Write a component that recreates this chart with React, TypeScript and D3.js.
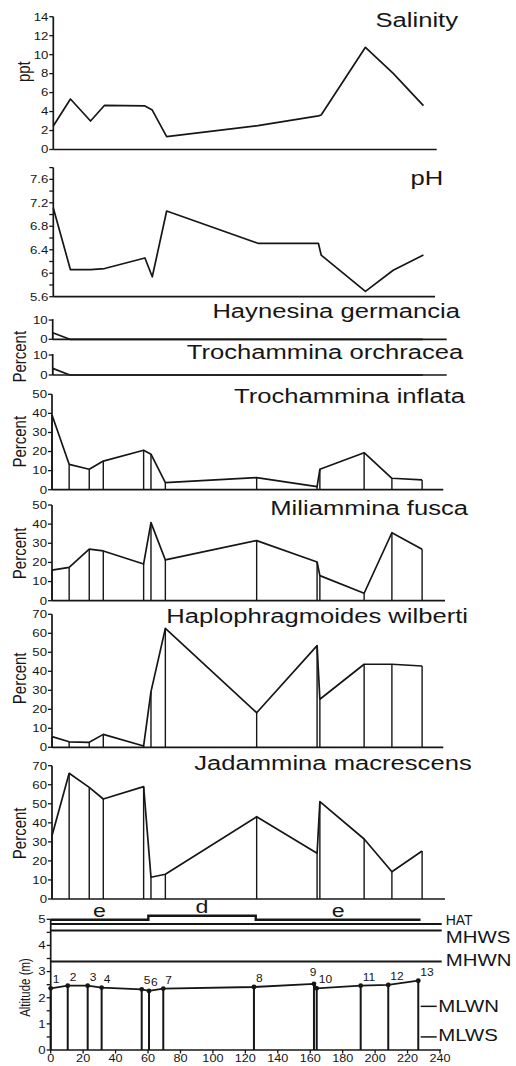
import * as d3 from "d3";
import React from "react";

// sample stations along the transect (distance in m)
const sampleIds = ["1", "2", "3", "4", "5", "6", "7", "8", "9", "10", "11", "12", "13"];
const distances = [0, 10.5, 22.8, 31.4, 56.1, 60.6, 69.4, 125.3, 162.3, 164, 191.1, 208.1, 226.6];

const salinity = [2.48, 5.32, 3.0, 4.66, 4.59, 4.16, 1.35, 2.51, 3.55, 3.64, 10.77, 8.03, 4.62];
const pH = [7.11, 6.06, 6.06, 6.08, 6.26, 5.94, 7.06, 6.51, 6.51, 6.31, 5.69, 6.05, 6.31];
const haynesina = [3.4, 0, 0, 0, 0, 0, 0, 0, 0, 0, 0, 0, 0];
const orchracea = [3.3, 0, 0, 0, 0, 0, 0, 0, 0, 0, 0, 0, 0];
const inflata = [39.2, 13.3, 10.7, 15, 20.7, 18.6, 3.7, 6.3, 1.6, 10.7, 19.4, 6, 5.1];
const fusca = [16, 17.4, 26.9, 26, 19.2, 40.8, 21.3, 31.4, 20.2, 13.1, 3.9, 35.5, 26.9];
const wilberti = [5.6, 2.9, 2.6, 6.8, 0.7, 29.3, 62.6, 18.2, 53.5, 25.3, 43.7, 43.7, 42.8];
const macrescens = [33.2, 66, 58.6, 52.5, 59, 11.4, 13, 43.2, 24, 51.1, 31.5, 14.3, 25.2];
const altitude = [2.36, 2.46, 2.46, 2.39, 2.32, 2.26, 2.35, 2.41, 2.53, 2.36, 2.46, 2.49, 2.65];

const zones = [
  { label: "e", from: 0, to: 60.2 },
  { label: "d", from: 60.2, to: 126.4 },
  { label: "e", from: 126.4, to: 228 },
];
const tideLevels = [
  { name: "HAT", alt: 4.82, full: true },
  { name: "MHWS", alt: 4.57, full: true },
  { name: "MHWN", alt: 3.39, full: true },
  { name: "MLWN", alt: 1.67, full: false },
  { name: "MLWS", alt: 0.5, full: false },
];

const salinityTicks = [0, 2, 4, 6, 8, 10, 12, 14];
const phTicks = [5.6, 6, 6.4, 6.8, 7.2, 7.6];
const phMinorTicks = [5.8, 6.2, 6.6, 7, 7.4, 7.8];
const smallTicks = [0, 10];
const fiftyTicks = [0, 10, 20, 30, 40, 50];
const seventyTicks = [0, 10, 20, 30, 40, 50, 60, 70];
const altTicks = [0, 1, 2, 3, 4, 5];
const altMinorTicks = [0.5, 1.5, 2.5, 3.5, 4.5];
const distTicks = [0, 20, 40, 60, 80, 100, 120, 140, 160, 180, 200, 220, 240];

const FONT = '"Liberation Sans", Arial, Helvetica, sans-serif';
const INK = "#161616";
const SW = 1.7;

// the source figure is stretched horizontally, so text is too
const SText = ({ x, y, size, anchor = "start", sx = 1.22, rotate = 0, dy, children }: any) => (
  <text
    transform={`translate(${x},${y}) scale(${sx},1)${rotate ? ` rotate(${rotate})` : ""}`}
    fontSize={size}
    textAnchor={anchor}
    dy={dy}
    fill={INK}
    fontFamily={FONT}
  >
    {children}
  </text>
);

interface PanelCfg {
  title: string;
  values: number[];
  domain: [number, number];
  bottom: number;
  top: number;
  axisX: number;
  endX: number;
  ticks: number[];
  minor?: number[];
  titleX: number;
  titleY: number;
  verticals: boolean;
}

const panels: PanelCfg[] = [
  { title: "Salinity", values: salinity, domain: [0, 14], bottom: 149.5, top: 16.7, axisX: 53.3, endX: 436.7, ticks: salinityTicks, titleX: 458, titleY: 27, verticals: false },
  { title: "pH", values: pH, domain: [5.6, 7.8], bottom: 296.7, top: 167.6, axisX: 53.3, endX: 435, ticks: phTicks, minor: phMinorTicks, titleX: 443.3, titleY: 185, verticals: false },
  { title: "Haynesina germancia", values: haynesina, domain: [0, 10.5], bottom: 339.3, top: 319.1, axisX: 52.7, endX: 446.7, ticks: smallTicks, titleX: 460, titleY: 318.3, verticals: true },
  { title: "Trochammina orchracea", values: orchracea, domain: [0, 10.5], bottom: 375, top: 354, axisX: 52.7, endX: 446.7, ticks: smallTicks, titleX: 463.3, titleY: 359.3, verticals: true },
  { title: "Trochammina inflata", values: inflata, domain: [0, 50], bottom: 489.7, top: 394.3, axisX: 52, endX: 443.3, ticks: fiftyTicks, titleX: 465, titleY: 403.3, verticals: true },
  { title: "Miliammina fusca", values: fusca, domain: [0, 50], bottom: 600.7, top: 505, axisX: 52, endX: 445, ticks: fiftyTicks, titleX: 468, titleY: 515, verticals: true },
  { title: "Haplophragmoides wilberti", values: wilberti, domain: [0, 70], bottom: 747.3, top: 614.3, axisX: 52, endX: 443.3, ticks: seventyTicks, titleX: 468, titleY: 623.3, verticals: true },
  { title: "Jadammina macrescens", values: macrescens, domain: [0, 70], bottom: 899, top: 765.7, axisX: 52, endX: 445, ticks: seventyTicks, titleX: 471.7, titleY: 770, verticals: true },
];

const yLabels = [
  { text: "ppt", x: 29.5, y: 71.7 },
  { text: "Percent", x: 26, y: 356.7 },
  { text: "Percent", x: 26, y: 441.7 },
  { text: "Percent", x: 26, y: 553.3 },
  { text: "Percent", x: 26, y: 678.3 },
  { text: "Percent", x: 26, y: 833.3 },
];

const Panel: React.FC<{ cfg: PanelCfg }> = ({ cfg }) => {
  const x = d3.scaleLinear().domain([0, 240]).range([cfg.axisX, cfg.axisX + 392]);
  const y = d3.scaleLinear().domain(cfg.domain).range([cfg.bottom, cfg.top]);
  const y0 = y(cfg.domain[0]);
  const line = d3
    .line<number>()
    .x((_, i) => x(distances[i]))
    .y((v) => y(v));

  return (
    <g>
      <line x1={cfg.axisX} x2={cfg.axisX} y1={y0} y2={y(cfg.domain[1])} stroke={INK} strokeWidth={SW} />
      <line x1={cfg.axisX} x2={cfg.endX} y1={y0} y2={y0} stroke={INK} strokeWidth={SW} />
      {cfg.ticks.map((t) => (
        <g key={t}>
          <line x1={cfg.axisX - 4} x2={cfg.axisX} y1={y(t)} y2={y(t)} stroke={INK} strokeWidth={1.3} />
          <SText x={cfg.axisX - 5} y={y(t)} dy="0.35em" size={11} anchor="end" sx={1.2}>
            {String(t)}
          </SText>
        </g>
      ))}
      {(cfg.minor || []).map((t) => (
        <line key={t} x1={cfg.axisX - 4} x2={cfg.axisX} y1={y(t)} y2={y(t)} stroke={INK} strokeWidth={1.3} />
      ))}
      {cfg.verticals &&
        cfg.values.map((v, i) => (
          <line key={i} x1={x(distances[i])} x2={x(distances[i])} y1={y(v)} y2={y0} stroke={INK} strokeWidth={1.4} />
        ))}
      <path d={line(cfg.values) || ""} fill="none" stroke={INK} strokeWidth={SW} strokeLinejoin="round" />
      <SText x={cfg.titleX} y={cfg.titleY} size={21} anchor="end">
        {cfg.title}
      </SText>
    </g>
  );
};

const AltitudePanel: React.FC = () => {
  const x = d3.scaleLinear().domain([0, 240]).range([50.7, 440]);
  const y = d3.scaleLinear().domain([0, 5]).range([1050, 919.3]);
  const profile = d3
    .line<number>()
    .x((_, i) => x(distances[i]))
    .y((v) => y(v));

  // zone bars: "d" sits a little higher than the "e" bars
  const barY = (label: string) => (label === "d" ? y(5) - 3.5 : y(5) + 0.5);
  const barPts: [number, number][] = [];
  zones.forEach((z) => {
    barPts.push([x(z.from), barY(z.label)]);
    barPts.push([x(z.to), barY(z.label)]);
  });

  const labelDy: Record<string, number> = { HAT: 1, MHWS: 12, MHWN: 5, MLWN: 5.5, MLWS: 4 };

  // a station whose neighbour is very close gets its number centred higher up
  const crowded = (i: number) => i < distances.length - 1 && distances[i + 1] - distances[i] < 3;

  return (
    <g>
      <line x1={x(0)} x2={x(0)} y1={y(0)} y2={y(5)} stroke={INK} strokeWidth={SW} />
      <line x1={x(0)} x2={441} y1={y(0)} y2={y(0)} stroke={INK} strokeWidth={SW} />
      {altTicks.map((t) => (
        <g key={t}>
          <line x1={x(0) - 4} x2={x(0)} y1={y(t)} y2={y(t)} stroke={INK} strokeWidth={1.3} />
          <SText x={x(0) - 5} y={y(t)} dy="0.35em" size={11} anchor="end" sx={1.2}>
            {String(t)}
          </SText>
        </g>
      ))}
      {altMinorTicks.map((t) => (
        <line key={t} x1={x(0) - 4} x2={x(0)} y1={y(t)} y2={y(t)} stroke={INK} strokeWidth={1.3} />
      ))}
      {distTicks.map((t) => (
        <g key={t}>
          <line x1={x(t)} x2={x(t)} y1={y(0)} y2={y(0) + 3.5} stroke={INK} strokeWidth={1.3} />
          <SText x={x(t)} y={1062} size={11} anchor="middle" sx={1.15}>
            {String(t)}
          </SText>
        </g>
      ))}
      <SText x={30} y={987.5} size={11.5} anchor="middle" rotate={-90}>
        Altitude (m)
      </SText>

      <path d={d3.line()(barPts) || ""} fill="none" stroke={INK} strokeWidth={2.4} />
      {zones.map((z, i) => (
        <SText key={i} x={x((z.from + z.to) / 2)} y={barY(z.label) - 3} size={19} anchor="middle">
          {z.label}
        </SText>
      ))}

      {tideLevels.map((t) => (
        <g key={t.name}>
          <line
            x1={t.full ? x(0) : 420.7}
            x2={t.full ? 441.7 : 436.7}
            y1={y(t.alt)}
            y2={y(t.alt)}
            stroke={INK}
            strokeWidth={t.full ? 2 : 1.5}
          />
          <SText
            x={t.full ? 445.7 : 438.3}
            y={y(t.alt) + labelDy[t.name]}
            size={t.name === "HAT" ? 14 : 17}
            sx={t.name === "HAT" ? 1.0 : 1.2}
          >
            {t.name}
          </SText>
        </g>
      ))}

      {altitude.map((a, i) => (
        <line key={i} x1={x(distances[i])} x2={x(distances[i])} y1={y(a)} y2={y(0)} stroke={INK} strokeWidth={2} />
      ))}
      <path d={profile(altitude) || ""} fill="none" stroke={INK} strokeWidth={1.8} />
      {altitude.map((a, i) => (
        <circle key={i} cx={x(distances[i])} cy={y(a)} r={2.4} fill={INK} />
      ))}
      {altitude.map((a, i) => (
        <SText
          key={i}
          x={crowded(i) ? x(distances[i]) - 1 : x(distances[i]) + 2}
          y={crowded(i) ? y(a) - 8 : y(a) - 5}
          size={10}
          sx={1.2}
          anchor={crowded(i) ? "middle" : "start"}
        >
          {sampleIds[i]}
        </SText>
      ))}
    </g>
  );
};

export default function App() {
  return (
    <div>
      <svg
        width={516}
        height={1066}
        viewBox="0 0 516 1066"
        style={{ position: "absolute", left: 0, top: 0, background: "#fff" }}
      >
        <rect width={516} height={1066} fill="#fff" />
        {panels.map((p) => (
          <Panel key={p.title} cfg={p} />
        ))}
        {yLabels.map((l, i) => (
          <SText key={i} x={l.x} y={l.y} size={15} anchor="middle" rotate={-90}>
            {l.text}
          </SText>
        ))}
        <AltitudePanel />
      </svg>
    </div>
  );
}
